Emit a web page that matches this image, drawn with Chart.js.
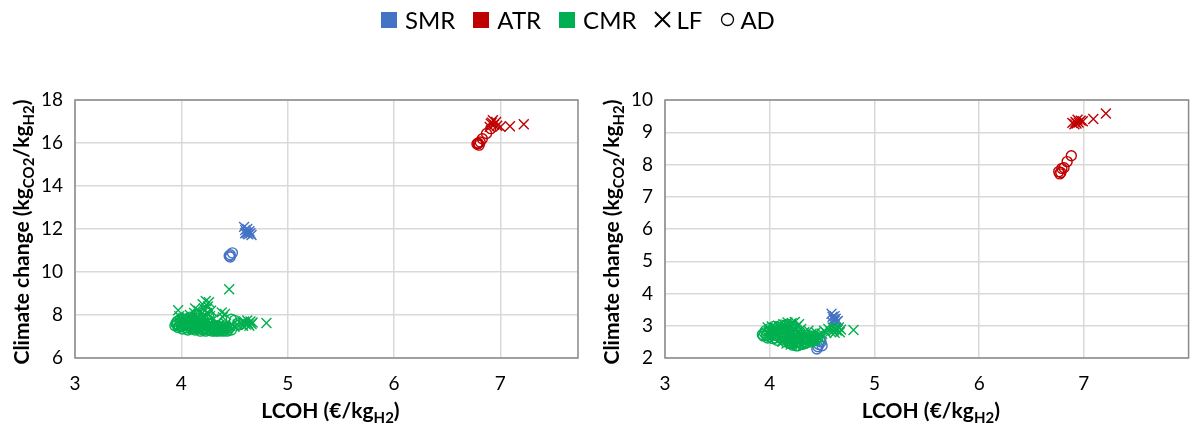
<!DOCTYPE html>
<html>
<head>
<meta charset="utf-8">
<script src="https://cdn.jsdelivr.net/npm/chart.js@4/dist/chart.umd.min.js"></script>
<style>
  body { margin: 0; background: #fff; width: 1197px; height: 427px; position: relative; overflow: hidden; font-family: Lato, "Open Sans", sans-serif; }
  canvas { position: absolute; top: 0; }
  #left { left: 0; }
  #right { left: 598px; }
  #legend { position: absolute; top: 5px; left: 381px; display: flex; align-items: center; font-size: 24px; color: #000; z-index: 2; }
  #legend .item { display: flex; align-items: center; margin-right: 18px; }
  #legend .sq { width: 16px; height: 16px; display: inline-block; margin-right: 8px; }
  #legend svg { margin-right: 5px; }
</style>
</head>
<body>
<div id="legend">
  <span class="item"><i class="sq" style="background:#4472C4"></i>SMR</span>
  <span class="item"><i class="sq" style="background:#C00000"></i>ATR</span>
  <span class="item"><i class="sq" style="background:#00B050"></i>CMR</span>
  <span class="item"><svg width="17" height="17"><path d="M1 1L16 16M16 1L1 16" stroke="#000" stroke-width="2"/></svg>LF</span>
  <span class="item"><svg width="15" height="15"><circle cx="7.5" cy="7.5" r="6" fill="none" stroke="#000" stroke-width="1.3"/></svg>AD</span>
</div>
<canvas id="left" width="598" height="427"></canvas>
<canvas id="right" width="599" height="427"></canvas>
<script>
// colours per technology
const BLUE = '#4472C4', RED = '#C00000', GREEN = '#00B050';

// ---- left panel: [LCOH, climate change] ----
const smrLfLeft = [[4.59,12.1],[4.60,11.95],[4.61,11.85],[4.62,11.8],[4.63,11.75],[4.65,11.8],[4.64,11.9],[4.60,11.8],[4.62,12.0],[4.66,11.72]];
const smrAdLeft = [[4.45,10.75],[4.46,10.8],[4.48,10.89],[4.46,10.7]];
const atrLfLeft = [[6.91,16.9],[6.93,17.06],[6.96,16.98],[6.94,16.85],[6.90,16.75],[7.00,16.75],[7.09,16.78],[7.22,16.87],[6.92,16.95],[6.97,16.8]];
const atrAdLeft = [[6.78,15.95],[6.79,15.97],[6.80,15.9],[6.81,16.05],[6.83,16.2],[6.87,16.44],[6.91,16.67],[6.79,16.0]];
const cmrLfLeft = [[3.97,8.22],[3.98,7.95],[4.00,7.75],[4.02,7.85],[4.04,7.6],[4.05,7.9],[4.07,7.7],[4.08,8.0],[4.10,7.55],[4.10,7.8],
  [4.12,8.1],[4.13,8.3],[4.14,7.65],[4.15,7.95],[4.16,8.2],[4.17,7.5],[4.18,7.8],[4.19,8.05],[4.20,8.5],[4.20,7.6],
  [4.21,8.3],[4.22,7.9],[4.23,8.65],[4.24,8.1],[4.25,7.7],[4.25,8.4],[4.26,8.6],[4.27,7.95],[4.28,7.5],[4.28,8.2],
  [4.30,7.8],[4.30,7.45],[4.32,7.6],[4.34,7.4],[4.36,7.55],[4.38,8.12],[4.39,7.9],[4.40,7.45],[4.41,8.05],[4.42,7.6],
  [4.45,9.2],[4.46,7.5],[4.50,7.45],[4.53,7.55],[4.56,7.6],[4.58,7.5],[4.59,7.7],[4.61,7.55],[4.62,7.75],[4.63,7.6],
  [4.64,7.5],[4.65,7.7],[4.66,7.58],[4.67,7.65],[4.80,7.63],[4.05,7.45],[4.12,7.4],[4.18,7.35],[4.22,7.4],[4.26,7.35]];
const cmrAdLeft = [[3.95,7.6],[3.96,7.55],[3.98,7.5],[3.99,7.65],[4.00,7.45],[4.02,7.55],[4.03,7.7],[4.05,7.4],[4.06,7.6],[4.08,7.5],
  [4.09,7.35],[4.11,7.65],[4.12,7.45],[4.14,7.55],[4.15,7.35],[4.17,7.45],[4.18,7.6],[4.20,7.3],[4.21,7.5],[4.23,7.4],
  [4.24,7.3],[4.26,7.45],[4.27,7.3],[4.29,7.4],[4.30,7.3],[4.32,7.35],[4.33,7.28],[4.35,7.4],[4.36,7.3],[4.38,7.35],
  [4.40,7.28],[4.42,7.35],[4.44,7.3],[4.47,7.8],[4.50,7.75],[4.53,7.62],[4.55,7.55],[4.10,7.75],[4.07,7.8],[4.25,7.6],
  [3.94,7.5],[3.96,7.7],[3.97,7.42],[3.99,7.8],[4.01,7.6],[4.01,7.35],[4.03,7.5],[4.04,7.8],[4.06,7.3],[4.07,7.65],
  [4.08,7.9],[4.10,7.4],[4.11,7.55],[4.13,7.3],[4.13,7.7],[4.14,7.85],[4.16,7.4],[4.16,7.65],[4.18,7.25],[4.19,7.5],
  [4.19,7.75],[4.21,7.35],[4.22,7.6],[4.23,7.25],[4.24,7.5],[4.25,7.75],[4.27,7.4],[4.28,7.6],[4.29,7.25],[4.31,7.45],
  [4.32,7.25],[4.34,7.5],[4.35,7.25],[4.37,7.45],[4.39,7.25],[4.41,7.4],[4.43,7.25],[4.45,7.4],[4.47,7.3],[4.20,7.85],
  [4.15,8.0],[4.23,8.2],[4.26,7.9]];

// ---- right panel ----
const smrLfRight = [[4.59,3.37],[4.60,3.28],[4.61,3.2],[4.62,3.15],[4.63,3.22],[4.65,3.15],[4.60,3.1],[4.62,3.3],[4.64,3.12]];
const smrAdRight = [[4.45,2.28],[4.46,2.35],[4.47,2.42],[4.49,2.5],[4.50,2.38],[4.48,2.55]];
const atrLfRight = [[6.89,9.29],[6.91,9.25],[6.92,9.32],[6.94,9.39],[6.95,9.3],[6.97,9.36],[6.99,9.34],[7.09,9.41],[7.21,9.58],[6.93,9.27]];
const atrAdRight = [[6.76,7.78],[6.77,7.71],[6.78,7.75],[6.79,7.88],[6.81,7.9],[6.84,8.09],[6.88,8.27]];
const cmrLfRight = [[3.98,2.95],[4.00,2.85],[4.02,2.98],[4.04,2.78],[4.06,2.9],[4.08,3.0],[4.10,2.7],[4.11,2.92],[4.13,3.05],[4.14,2.6],
  [4.15,2.85],[4.17,3.1],[4.18,2.55],[4.19,2.95],[4.20,2.75],[4.21,3.08],[4.22,2.5],[4.23,2.88],[4.24,3.12],[4.25,2.65],
  [4.26,2.98],[4.27,2.55],[4.28,3.05],[4.29,2.75],[4.30,2.9],[4.32,2.6],[4.33,2.8],[4.35,2.68],[4.37,2.85],[4.38,2.6],
  [4.40,2.75],[4.42,2.65],[4.44,2.8],[4.46,2.7],[4.48,2.6],[4.50,2.75],[4.52,2.85],[4.54,2.78],[4.56,2.9],[4.58,2.82],
  [4.60,2.95],[4.61,2.85],[4.62,2.78],[4.63,2.92],[4.64,2.85],[4.66,2.95],[4.67,2.8],[4.68,2.88],[4.80,2.87],[4.05,2.7],
  [4.12,2.5],[4.16,2.45],[4.20,2.42],[4.24,2.45],[4.28,2.48]];
const cmrAdRight = [[3.93,2.73],[3.95,2.78],[3.97,2.7],[3.99,2.82],[4.00,2.65],[4.02,2.75],[4.04,2.88],[4.05,2.62],[4.07,2.8],[4.09,2.68],
  [4.10,2.9],[4.12,2.58],[4.13,2.78],[4.15,2.5],[4.16,2.7],[4.18,2.85],[4.19,2.45],[4.21,2.62],[4.22,2.4],[4.24,2.55],
  [4.25,2.38],[4.27,2.48],[4.28,2.62],[4.30,2.45],[4.31,2.55],[4.33,2.5],[4.35,2.58],[4.36,2.48],[4.38,2.55],[4.40,2.5],
  [4.42,2.6],[4.44,2.55],[4.08,2.95],[4.15,3.0],[4.22,2.98],[4.46,2.62],
  [3.94,2.68],[3.96,2.85],[3.98,2.62],[4.00,2.92],[4.01,2.72],[4.03,2.6],[4.04,2.98],[4.06,2.7],[4.07,2.55],[4.08,2.85],
  [4.10,2.62],[4.11,3.02],[4.12,2.72],[4.14,2.9],[4.15,2.6],[4.17,2.78],[4.17,3.05],[4.18,2.52],[4.20,2.68],[4.20,2.95],
  [4.22,2.55],[4.23,2.8],[4.25,2.48],[4.25,2.7],[4.26,2.9],[4.28,2.52],[4.29,2.7],[4.31,2.42],[4.32,2.62],[4.34,2.7],
  [4.34,2.45],[4.37,2.6],[4.39,2.68],[4.41,2.55],[4.43,2.68],[4.27,2.38],[4.21,2.45],[4.18,2.6]];

const xTicks = [3, 4, 5, 6, 7];
const FONT = 'Lato, "Open Sans", sans-serif';

function series(pts, color, cross) {
  return {
    data: pts.map(p => ({ x: p[0], y: p[1] })),
    pointStyle: cross ? 'crossRot' : 'circle',
    pointRadius: cross ? 7 : 5,
    borderColor: color,
    backgroundColor: 'rgba(0,0,0,0)',
    borderWidth: 1.4
  };
}

// text with subscripts: parts = [[text, isSub], ...], centred on (x, y)
function drawRich(ctx, parts, x, y, rotate) {
  const big = 'bold 21px ' + FONT, small = 'bold 15px ' + FONT;
  let w = 0;
  parts.forEach(p => { ctx.font = p[1] ? small : big; w += ctx.measureText(p[0]).width; });
  ctx.save();
  ctx.translate(x, y);
  if (rotate) ctx.rotate(-Math.PI / 2);
  ctx.fillStyle = '#000';
  ctx.textBaseline = 'middle';
  ctx.textAlign = 'left';
  let cx = -w / 2;
  parts.forEach(p => {
    ctx.font = p[1] ? small : big;
    ctx.fillText(p[0], cx, p[1] ? 7 : 0);
    cx += ctx.measureText(p[0]).width;
  });
  ctx.restore();
}

const frame = {
  id: 'frame',
  afterDraw(chart, args, opts) {
    const { ctx, chartArea: a } = chart;
    ctx.save();
    ctx.strokeStyle = '#898989';
    ctx.lineWidth = 1.5;
    ctx.strokeRect(a.left, a.top, a.right - a.left, a.bottom - a.top);
    ctx.restore();
    drawRich(ctx, [['LCOH (€/kg', 0], ['H2', 1], [')', 0]], (a.left + a.right) / 2 + 4, 411, false);
    drawRich(ctx, [['Climate change (kg', 0], ['CO2', 1], ['/kg', 0], ['H2', 1], [')', 0]], opts.yTitleX, (a.top + a.bottom) / 2 + 3, true);
  }
};

function makeChart(id, sets, cfg) {
  return new Chart(document.getElementById(id), {
    type: 'scatter',
    data: { datasets: sets },
    options: {
      responsive: false,
      animation: false,
      events: [],
      layout: { padding: { top: 100, right: cfg.padRight, left: 0, bottom: 0 } },
      plugins: { legend: { display: false }, tooltip: { enabled: false }, frame: { yTitleX: cfg.yTitleX } },
      scales: {
        x: {
          type: 'linear', min: 3, max: cfg.xMax,
          afterBuildTicks: s => { s.ticks = xTicks.map(v => ({ value: v })); },
          afterFit: s => { s.height = 69; },
          ticks: { font: { family: FONT, size: 19 }, color: '#000', padding: 14 },
          grid: { color: '#D9D9D9', lineWidth: 1.5, drawTicks: false },
          border: { display: false }
        },
        y: {
          type: 'linear', min: cfg.yMin, max: cfg.yMax,
          afterFit: s => { s.width = cfg.yWidth; },
          ticks: { stepSize: cfg.yStep, font: { family: FONT, size: 19 }, color: '#000', padding: 12 },
          grid: { color: '#D9D9D9', lineWidth: 1.5, drawTicks: false },
          border: { display: false }
        }
      }
    },
    plugins: [frame]
  });
}

makeChart('left', [
  series(cmrAdLeft, GREEN, false), series(cmrLfLeft, GREEN, true),
  series(smrAdLeft, BLUE, false), series(smrLfLeft, BLUE, true),
  series(atrAdLeft, RED, false), series(atrLfLeft, RED, true)
], { xMax: 7.73, yMin: 6, yMax: 18, yStep: 2, yWidth: 75, padRight: 20, yTitleX: 22 });

makeChart('right', [
  series(cmrAdRight, GREEN, false), series(cmrLfRight, GREEN, true),
  series(smrAdRight, BLUE, false), series(smrLfRight, BLUE, true),
  series(atrAdRight, RED, false), series(atrLfRight, RED, true)
], { xMax: 8, yMin: 2, yMax: 10, yStep: 1, yWidth: 67, padRight: 2, yTitleX: 14 });
</script>
</body>
</html>
